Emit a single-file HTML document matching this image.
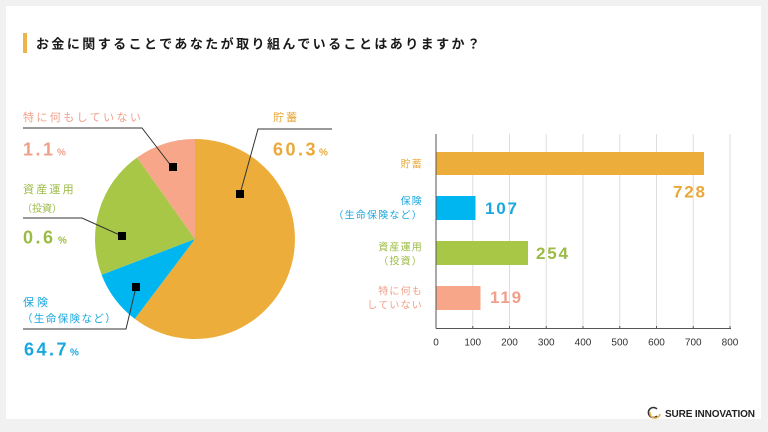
<!DOCTYPE html>
<html><head><meta charset="utf-8">
<style>
html,body{margin:0;padding:0;}
body{width:768px;height:432px;background:#f1f1f1;overflow:hidden;font-family:"Liberation Sans","Noto Sans CJK JP",sans-serif;}
svg{position:absolute;left:0;top:0;}
</style></head>
<body>
<svg width="768" height="432" viewBox="0 0 768 432" xmlns="http://www.w3.org/2000/svg" font-family="Liberation Sans, Noto Sans CJK JP, sans-serif">
<rect x="6" y="6" width="755" height="413" fill="#ffffff"/>
<!-- title -->
<rect x="23" y="33" width="4" height="20" fill="#EDB547"/>
<text x="36" y="48.5" font-size="13" font-weight="bold" fill="#1a1a1a" textLength="444" lengthAdjust="spacing">お金に関することであなたが取り組んでいることはありますか？</text>

<!-- pie -->
<path d="M195,239 L195,139 A100,100 0 1 1 134.8,318.9 Z" fill="#EDAD3A"/>
<path d="M195,239 L134.8,318.9 A100,100 0 0 1 101.6,274.8 Z" fill="#00B6F1"/>
<path d="M195,239 L101.6,274.8 A100,100 0 0 1 137.1,157.5 Z" fill="#A8C747"/>
<path d="M195,239 L137.1,157.5 A100,100 0 0 1 195,139 Z" fill="#F7A68A"/>

<!-- leader lines -->
<g stroke="#333" stroke-width="1" fill="none">
<polyline points="240,194 258,129 332,129"/>
<polyline points="172,167 142,128 23,128"/>
<polyline points="122,236 82,218 23,218"/>
<polyline points="136,287 126,329 23,329"/>
</g>
<g fill="#000">
<rect x="236" y="190" width="8" height="8"/>
<rect x="169" y="163" width="8" height="8"/>
<rect x="118" y="232" width="8" height="8"/>
<rect x="132" y="283" width="8" height="8"/>
</g>

<!-- pie labels -->
<g font-size="11">
<text x="23" y="121" fill="#F0A08A" letter-spacing="2.4">特に何もしていない</text>
<text x="273" y="121" fill="#E9A93A" letter-spacing="2">貯蓄</text>
<text x="23" y="193" fill="#9CBB45" letter-spacing="2.2">資産運用</text>
<text x="22" y="212" fill="#9CBB45" font-size="10">（投資）</text>
<text x="23" y="306" fill="#1AA7DF" letter-spacing="3">保険</text>
<text x="22" y="322" fill="#1AA7DF" font-size="10.5" letter-spacing="1.4">（生命保険など）</text>
</g>
<g font-weight="bold">
<text x="23" y="155.5" fill="#F0A08A" font-size="18" letter-spacing="2.5">1.1</text>
<text x="57" y="155.5" fill="#F0A08A" font-size="10">%</text>
<text x="273" y="155.5" fill="#E9A93A" font-size="18" letter-spacing="2.5">60.3</text>
<text x="319" y="155.5" fill="#E9A93A" font-size="10">%</text>
<text x="23" y="243.5" fill="#9CBB45" font-size="18" letter-spacing="2.5">0.6</text>
<text x="58" y="243.5" fill="#9CBB45" font-size="10">%</text>
<text x="24" y="355.5" fill="#1AA7DF" font-size="18" letter-spacing="2.5">64.7</text>
<text x="70" y="355.5" fill="#1AA7DF" font-size="10">%</text>
</g>

<!-- bar chart grid -->
<g stroke="#dddddd" stroke-width="1">
<line x1="472.75" y1="134" x2="472.75" y2="328"/>
<line x1="509.5" y1="134" x2="509.5" y2="328"/>
<line x1="546.25" y1="134" x2="546.25" y2="328"/>
<line x1="583" y1="134" x2="583" y2="328"/>
<line x1="619.75" y1="134" x2="619.75" y2="328"/>
<line x1="656.5" y1="134" x2="656.5" y2="328"/>
<line x1="693.25" y1="134" x2="693.25" y2="328"/>
<line x1="730" y1="134" x2="730" y2="328"/>
</g>
<!-- bars -->
<rect x="436" y="152" width="268" height="23" fill="#EDAD3A"/>
<rect x="436" y="196" width="39.5" height="24" fill="#00B6F1"/>
<rect x="436" y="241" width="92" height="24" fill="#A8C747"/>
<rect x="436" y="286" width="44.5" height="24" fill="#F7A68A"/>
<!-- axes -->
<g stroke="#555" stroke-width="1">
<line x1="436" y1="134" x2="436" y2="328.5"/>
<line x1="436" y1="328.5" x2="731" y2="328.5"/>
<line x1="472.75" y1="326" x2="472.75" y2="329"/>
<line x1="509.5" y1="326" x2="509.5" y2="329"/>
<line x1="546.25" y1="326" x2="546.25" y2="329"/>
<line x1="583" y1="326" x2="583" y2="329"/>
<line x1="619.75" y1="326" x2="619.75" y2="329"/>
<line x1="656.5" y1="326" x2="656.5" y2="329"/>
<line x1="693.25" y1="326" x2="693.25" y2="329"/>
<line x1="730" y1="326" x2="730" y2="329"/>
</g>
<g font-size="10" fill="#333" text-anchor="middle">
<text x="436" y="345.5">0</text>
<text x="472.75" y="345.5">100</text>
<text x="509.5" y="345.5">200</text>
<text x="546.25" y="345.5">300</text>
<text x="583" y="345.5">400</text>
<text x="619.75" y="345.5">500</text>
<text x="656.5" y="345.5">600</text>
<text x="693.25" y="345.5">700</text>
<text x="730" y="345.5">800</text>
</g>
<!-- bar category labels -->
<g font-size="10" text-anchor="end" letter-spacing="1.2">
<text x="423" y="167.5" fill="#E9A93A">貯蓄</text>
<text x="423" y="204.5" fill="#1AA7DF">保険</text>
<text x="423" y="218.5" fill="#1AA7DF">（生命保険など）</text>
<text x="423" y="250.5" fill="#9CBB45">資産運用</text>
<text x="423" y="264.5" fill="#9CBB45">（投資）</text>
<text x="423" y="294.5" fill="#F0A08A">特に何も</text>
<text x="423" y="308.5" fill="#F0A08A">していない</text>
</g>
<!-- values -->
<g font-size="17" font-weight="bold" letter-spacing="1.8">
<text x="673" y="197.5" fill="#E9A93A">728</text>
<text x="485" y="214" fill="#1AA7DF">107</text>
<text x="536" y="259" fill="#9CBB45">254</text>
<text x="490" y="303" fill="#F0A08A">119</text>
</g>

<!-- logo -->
<path d="M657,409 A5,5 0 1 0 657,416" stroke="#333" stroke-width="1.6" fill="none"/>
<path d="M650,412 A5,5 0 0 0 660,414" stroke="#E3B04B" stroke-width="1.6" fill="none"/>
<text x="665" y="417" font-size="10" font-weight="bold" fill="#222" textLength="90" lengthAdjust="spacing">SURE INNOVATION</text>
</svg>
</body></html>
